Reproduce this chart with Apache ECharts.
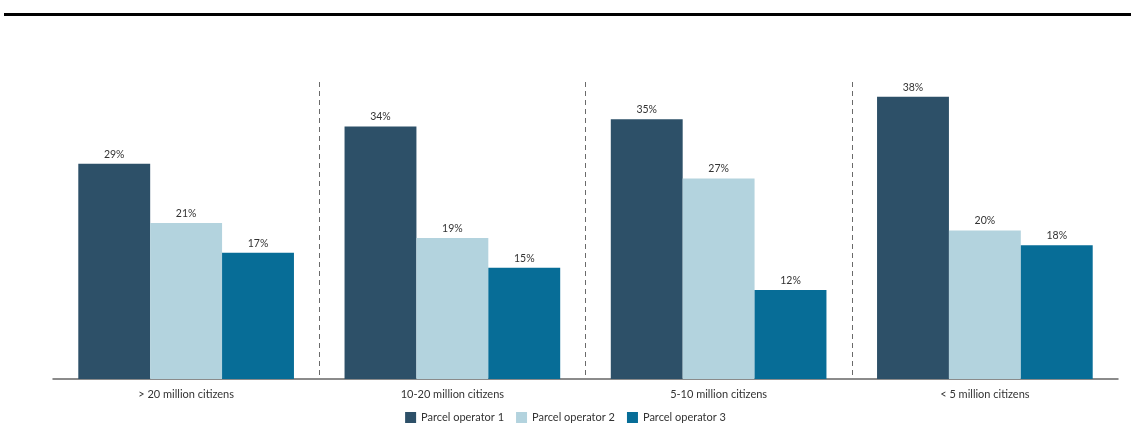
<!DOCTYPE html>
<html>
<head>
<meta charset="utf-8">
<script src="https://cdn.jsdelivr.net/npm/echarts@6/dist/echarts.min.js"></script>
<style>
  html, body { margin: 0; padding: 0; background: #ffffff; }
  #chart { width: 1131px; height: 437px; }
</style>
</head>
<body>
<div id="chart"></div>
<script>
// Market share of parcel operators by city size
const categories = ['> 20 million citizens', '10-20 million citizens', '5-10 million citizens', '< 5 million citizens'];
const seriesNames = ['Parcel operator 1', 'Parcel operator 2', 'Parcel operator 3'];
const operator1 = [29, 34, 35, 38];
const operator2 = [21, 19, 27, 20];
const operator3 = [17, 15, 12, 18];
const colors = ['#2d5068', '#b3d3de', '#076d97'];

const fontFamily = 'Lato, "Noto Sans", sans-serif';

const chart = echarts.init(document.getElementById('chart'), null, { renderer: 'canvas' });

function barSeries(name, data, color) {
  return {
    name: name,
    type: 'bar',
    data: data,
    barGap: '0%',
    barCategoryGap: '19%',
    itemStyle: { color: color },
    label: {
      show: true,
      position: 'top',
      distance: 4,
      formatter: '{c}%',
      color: '#333333',
      fontSize: 10.5,
      fontFamily: fontFamily
    }
  };
}

chart.setOption({
  animation: false,
  color: colors,
  graphic: [{
    type: 'rect',
    left: 4,
    top: 13,
    shape: { width: 1127, height: 3 },
    style: { fill: '#000000' }
  }],
  grid: { left: 53, right: 13, top: 82, bottom: 58, containLabel: false },
  legend: {
    bottom: 9,
    left: 'center',
    itemWidth: 11,
    itemHeight: 11,
    itemGap: 12,
    icon: 'rect',
    textStyle: { color: '#333333', fontSize: 11, fontFamily: fontFamily },
    data: seriesNames
  },
  xAxis: {
    type: 'category',
    data: categories,
    axisLine: { show: true, lineStyle: { color: '#666666', width: 1.5 } },
    axisTick: { show: false },
    axisLabel: { color: '#333333', fontSize: 11, fontFamily: fontFamily, margin: 10 },
    splitLine: {
      show: true,
      interval: 0,
      lineStyle: {
        type: [5, 4],
        width: 1,
        color: ['rgba(0,0,0,0)', '#6a6a6a', '#6a6a6a', '#6a6a6a', 'rgba(0,0,0,0)']
      }
    }
  },
  yAxis: {
    type: 'value',
    min: 0,
    max: 40,
    show: false,
    splitLine: { show: false }
  },
  series: [
    barSeries(seriesNames[0], operator1, colors[0]),
    barSeries(seriesNames[1], operator2, colors[1]),
    barSeries(seriesNames[2], operator3, colors[2])
  ]
});
</script>
</body>
</html>
